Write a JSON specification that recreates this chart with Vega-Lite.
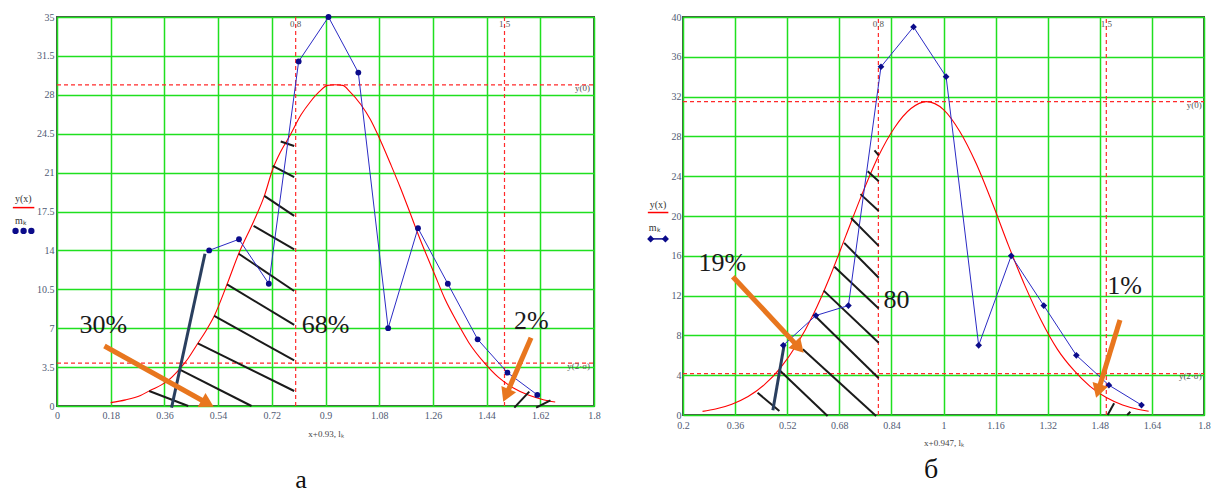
{
  "$schema": "https://vega.github.io/schema/vega-lite/v6.json",
  "background": "white",
  "padding": {"left": 11, "top": 11, "right": 5, "bottom": 0},
  "spacing": 89,
  "bounds": "flush",
  "config": {
    "view": {"stroke": "#4d4d4d", "strokeWidth": 2},
    "font": "Liberation Serif",
    "axis": {
      "grid": true, "gridColor": "#1fe01f", "gridWidth": 1.5, "gridOpacity": 1,
      "domain": false, "ticks": false,
      "labelFont": "Liberation Serif", "labelFontSize": 10, "labelColor": "#505a74",
      "labelFlush": false, "labelOverlap": false,
      "titleFont": "Liberation Serif", "titleFontSize": 9, "titleFontWeight": "normal", "titleColor": "#444"
    }
  },
  "datasets": {
    "curveA": [
      {"x":0.18,"y":0.3},{"x":0.23,"y":0.55},{"x":0.28,"y":0.95},{"x":0.315,"y":1.44},{"x":0.35,"y":1.9},
      {"x":0.37,"y":2.25},{"x":0.41,"y":3.3},{"x":0.44,"y":4.3},{"x":0.47,"y":5.55},{"x":0.5,"y":6.8},
      {"x":0.527,"y":8.1},{"x":0.57,"y":10.95},{"x":0.609,"y":13.7},{"x":0.659,"y":16.6},{"x":0.695,"y":18.9},
      {"x":0.723,"y":21.3},{"x":0.75,"y":22.9},{"x":0.78,"y":24.3},{"x":0.818,"y":26.2},{"x":0.85,"y":27.4},
      {"x":0.88,"y":28.3},{"x":0.907,"y":28.85},{"x":0.932,"y":28.9},{"x":0.958,"y":28.85},{"x":0.98,"y":28.33},
      {"x":1.019,"y":27.1},{"x":1.05,"y":25.8},{"x":1.08,"y":24.14},{"x":1.12,"y":21.65},{"x":1.15,"y":19.7},
      {"x":1.176,"y":17.9},{"x":1.22,"y":14.8},{"x":1.265,"y":11.9},{"x":1.3,"y":9.65},{"x":1.343,"y":7.45},
      {"x":1.38,"y":5.72},{"x":1.432,"y":3.9},{"x":1.48,"y":2.57},{"x":1.53,"y":1.62},{"x":1.58,"y":0.98},
      {"x":1.63,"y":0.57},{"x":1.67,"y":0.36}
    ],
    "curveB": [
      {"x":0.26,"y":0.36},{"x":0.3,"y":0.6},{"x":0.35,"y":1.09},{"x":0.4,"y":1.86},{"x":0.45,"y":3.05},
      {"x":0.5,"y":4.77},{"x":0.55,"y":7.11},{"x":0.6,"y":10.1},{"x":0.65,"y":13.8},{"x":0.7,"y":18.0},
      {"x":0.75,"y":22.2},{"x":0.8,"y":26.0},{"x":0.85,"y":28.9},{"x":0.9,"y":30.8},{"x":0.947,"y":31.5},
      {"x":1.0,"y":30.7},{"x":1.05,"y":28.5},{"x":1.1,"y":25.3},{"x":1.15,"y":21.3},{"x":1.2,"y":17.0},
      {"x":1.25,"y":13.0},{"x":1.3,"y":9.5},{"x":1.35,"y":6.6},{"x":1.4,"y":4.5},{"x":1.45,"y":2.88},
      {"x":1.5,"y":1.75},{"x":1.55,"y":1.01},{"x":1.6,"y":0.56},{"x":1.63,"y":0.38}
    ],
    "blueA": [
      {"x":0.51,"y":14},{"x":0.61,"y":15},{"x":0.71,"y":11},{"x":0.81,"y":31},{"x":0.91,"y":35},{"x":1.01,"y":30},
      {"x":1.11,"y":7},{"x":1.21,"y":16},{"x":1.31,"y":11},{"x":1.41,"y":6},{"x":1.51,"y":3},{"x":1.61,"y":1}
    ],
    "blueB": [
      {"x":0.508,"y":7},{"x":0.608,"y":10},{"x":0.708,"y":11},{"x":0.808,"y":35},{"x":0.908,"y":39},{"x":1.008,"y":34},
      {"x":1.108,"y":7},{"x":1.208,"y":16},{"x":1.308,"y":11},{"x":1.408,"y":6},{"x":1.508,"y":3},{"x":1.608,"y":1}
    ],
    "refA": [
      {"x":0.8,"x2":0.8,"y":0,"y2":35},{"x":1.5,"x2":1.5,"y":0,"y2":35},
      {"x":0,"x2":1.8,"y":28.9,"y2":28.9},{"x":0,"x2":1.8,"y":3.85,"y2":3.85}
    ],
    "refB": [
      {"x":0.8,"x2":0.8,"y":0,"y2":40},{"x":1.5,"x2":1.5,"y":0,"y2":40},
      {"x":0.2,"x2":1.8,"y":31.5,"y2":31.5},{"x":0.2,"x2":1.8,"y":4.15,"y2":4.15}
    ],
    "hatchA": [
      {"x":0.75,"y":23.8,"x2":0.795,"y2":23.4},
      {"x":0.723,"y":21.6,"x2":0.795,"y2":20.6},
      {"x":0.695,"y":18.9,"x2":0.795,"y2":17.1},
      {"x":0.659,"y":16.2,"x2":0.795,"y2":14.1},
      {"x":0.609,"y":13.7,"x2":0.795,"y2":10.35},
      {"x":0.57,"y":10.95,"x2":0.795,"y2":7.29},
      {"x":0.527,"y":8.1,"x2":0.795,"y2":4.11},
      {"x":0.472,"y":5.64,"x2":0.795,"y2":1.35},
      {"x":0.41,"y":3.3,"x2":0.652,"y2":0},
      {"x":0.309,"y":1.35,"x2":0.44,"y2":0},
      {"x":1.533,"y":-0.15,"x2":1.583,"y2":1.29},
      {"x":1.606,"y":-0.15,"x2":1.654,"y2":0.51}
    ],
    "hatchB": [
      {"x":0.788,"y":26.6,"x2":0.801,"y2":26.1},
      {"x":0.767,"y":24.5,"x2":0.801,"y2":23.5},
      {"x":0.745,"y":22.2,"x2":0.801,"y2":20.5},
      {"x":0.716,"y":19.8,"x2":0.801,"y2":17.0},
      {"x":0.695,"y":17.3,"x2":0.801,"y2":13.8},
      {"x":0.665,"y":14.9,"x2":0.801,"y2":10.7},
      {"x":0.632,"y":12.5,"x2":0.801,"y2":7.27},
      {"x":0.601,"y":10.1,"x2":0.801,"y2":3.69},
      {"x":0.568,"y":6.6,"x2":0.793,"y2":-0.1},
      {"x":0.499,"y":4.42,"x2":0.644,"y2":-0.1},
      {"x":0.429,"y":2.24,"x2":0.496,"y2":0.4},
      {"x":1.504,"y":0,"x2":1.524,"y2":1.18},
      {"x":1.564,"y":0,"x2":1.574,"y2":0.33}
    ],
    "slateA": [{"x":0.384,"y":-0.15,"x2":0.496,"y2":13.7}],
    "slateB": [{"x":0.511,"y":7.1,"x2":0.476,"y2":0.47}],
    "shaftA": [
      {"x":0.159,"y":5.4,"x2":0.505,"y2":0.23},
      {"x":1.589,"y":6.15,"x2":1.505,"y2":0.95}
    ],
    "shaftB": [
      {"x":0.353,"y":13.9,"x2":0.556,"y2":6.77},
      {"x":1.542,"y":9.54,"x2":1.475,"y2":2.41}
    ],
    "bigA": [
      {"x":0.155,"y":6.6,"label":"30%"},{"x":0.9,"y":6.6,"label":"68%"},{"x":1.59,"y":6.9,"label":"2%"}
    ],
    "bigB": [
      {"x":0.321,"y":14.5,"label":"19%"},{"x":0.856,"y":10.8,"label":"80"},{"x":1.556,"y":12.2,"label":"1%"}
    ],
    "topA": [{"x":0.8,"y":34.4,"label":"0.8"},{"x":1.5,"y":34.4,"label":"1.5"}],
    "topB": [{"x":0.8,"y":39.26,"label":"0.8"},{"x":1.5,"y":39.26,"label":"1.5"}],
    "rightA": [{"x":1.787,"y":28.65,"label":"y(0)"},{"x":1.787,"y":3.6,"label":"y(2·σ)"}],
    "rightB": [{"x":1.793,"y":31.2,"label":"y(0)"},{"x":1.793,"y":3.95,"label":"y(2·σ)"}],
    "legTxtA": [{"x":-0.1408,"y":18.36,"label":"y(x)"},{"x":-0.141,"y":16.4,"label":"mₖ"}],
    "legTxtB": [{"x":0.098,"y":20.85,"label":"y(x)"},{"x":0.095,"y":18.5,"label":"mₖ"}],
    "legLineA": [{"x":-0.148,"x2":-0.076,"y":17.85,"y2":17.85}],
    "legLineB": [{"x":0.092,"x2":0.155,"y":20.35,"y2":20.35}],
    "legPtsA": [{"x":-0.139,"y":15.75},{"x":-0.112,"y":15.75},{"x":-0.086,"y":15.75}],
    "legPtsB": [{"x":0.1007,"y":17.7},{"x":0.146,"y":17.7}],
    "panelA": [{"x":0.818,"y":-7.38,"label":"а"}],
    "panelB": [{"x":0.962,"y":-6.33,"label":"б"}]
  },
  "hconcat": [
    {
      "width": 537,
      "height": 389,
      "encoding": {
        "x": {"field": "x", "type": "quantitative",
              "scale": {"domain": [0, 1.8], "nice": false, "zero": false},
              "axis": {"values": [0,0.18,0.36,0.54,0.72,0.9,1.08,1.26,1.44,1.62,1.8], "format": ".4~g",
                       "labelPadding": 4, "title": "x+0.93, lₖ", "titleY": 27, "titleBaseline": "middle"}},
        "y": {"field": "y", "type": "quantitative",
              "scale": {"domain": [0, 35], "nice": false, "zero": false},
              "axis": {"values": [0,3.5,7,10.5,14,17.5,21,24.5,28,31.5,35], "format": ".4~g",
                       "labelPadding": 3, "title": null}}
      },
      "layer": [
        {"data": {"name": "refA"}, "mark": {"type": "rule", "color": "#ff2a2a", "strokeWidth": 1.2, "strokeDash": [4, 3]},
         "encoding": {"x2": {"field": "x2"}, "y2": {"field": "y2"}}},
        {"data": {"name": "curveA"}, "mark": {"type": "line", "color": "#ff0000", "strokeWidth": 1.1, "interpolate": "monotone"}},
        {"data": {"name": "hatchA"}, "mark": {"type": "rule", "color": "#1a1a1a", "strokeWidth": 2},
         "encoding": {"x2": {"field": "x2"}, "y2": {"field": "y2"}}},
        {"data": {"name": "slateA"}, "mark": {"type": "rule", "color": "#2a3f5f", "strokeWidth": 3},
         "encoding": {"x2": {"field": "x2"}, "y2": {"field": "y2"}}},
        {"data": {"name": "blueA"}, "mark": {"type": "line", "color": "#2b2bc4", "strokeWidth": 1}},
        {"data": {"name": "blueA"}, "mark": {"type": "point", "shape": "circle", "filled": true, "size": 34, "color": "#0b0b8a", "opacity": 1}},
        {"data": {"name": "shaftA"}, "mark": {"type": "rule", "color": "#e8761e", "strokeWidth": 5, "strokeCap": "butt"},
         "encoding": {"x2": {"field": "x2"}, "y2": {"field": "y2"}}},
        {"data": {"values": [{"x": 0.505, "y": 0.23}]},
         "mark": {"type": "point", "shape": "triangle-right", "filled": true, "size": 256, "angle": 29, "color": "#e8761e", "opacity": 1}},
        {"data": {"values": [{"x": 1.505, "y": 0.95}]},
         "mark": {"type": "point", "shape": "triangle-right", "filled": true, "size": 256, "angle": 113.4, "color": "#e8761e", "opacity": 1}},
        {"data": {"name": "bigA"}, "mark": {"type": "text", "font": "Liberation Serif", "fontSize": 26, "color": "#1a1a1a", "align": "center", "baseline": "alphabetic"},
         "encoding": {"text": {"field": "label"}}},
        {"data": {"name": "topA"}, "mark": {"type": "text", "font": "Liberation Serif", "fontSize": 9, "color": "#555", "align": "center", "baseline": "middle"},
         "encoding": {"text": {"field": "label"}}},
        {"data": {"name": "rightA"}, "mark": {"type": "text", "font": "Liberation Serif", "fontSize": 9, "color": "#555", "align": "right", "baseline": "middle"},
         "encoding": {"text": {"field": "label"}}},
        {"data": {"name": "legTxtA"}, "mark": {"type": "text", "font": "Liberation Serif", "fontSize": 10, "color": "#333", "align": "left", "baseline": "alphabetic"},
         "encoding": {"text": {"field": "label"}}},
        {"data": {"name": "legLineA"}, "mark": {"type": "rule", "color": "#ff0000", "strokeWidth": 1.5},
         "encoding": {"x2": {"field": "x2"}, "y2": {"field": "y2"}}},
        {"data": {"name": "legPtsA"}, "mark": {"type": "point", "shape": "circle", "filled": true, "size": 40, "color": "#0b0b8a", "opacity": 1}},
        {"data": {"name": "panelA"}, "mark": {"type": "text", "font": "Liberation Serif", "fontSize": 26, "color": "#111", "align": "center", "baseline": "alphabetic"},
         "encoding": {"text": {"field": "label"}}}
      ]
    },
    {
      "width": 521,
      "height": 398,
      "encoding": {
        "x": {"field": "x", "type": "quantitative",
              "scale": {"domain": [0.2, 1.8], "nice": false, "zero": false},
              "axis": {"values": [0.2,0.36,0.52,0.68,0.84,1,1.16,1.32,1.48,1.64,1.8], "format": ".4~g",
                       "labelPadding": 5, "title": "x+0.947, lₖ", "titleY": 27, "titleBaseline": "middle"}},
        "y": {"field": "y", "type": "quantitative",
              "scale": {"domain": [0, 40], "nice": false, "zero": false},
              "axis": {"values": [0,4,8,12,16,20,24,28,32,36,40], "format": ".4~g",
                       "labelPadding": 2, "title": null}}
      },
      "layer": [
        {"data": {"name": "refB"}, "mark": {"type": "rule", "color": "#ff2a2a", "strokeWidth": 1.2, "strokeDash": [4, 3]},
         "encoding": {"x2": {"field": "x2"}, "y2": {"field": "y2"}}},
        {"data": {"name": "curveB"}, "mark": {"type": "line", "color": "#ff0000", "strokeWidth": 1.1, "interpolate": "monotone"}},
        {"data": {"name": "hatchB"}, "mark": {"type": "rule", "color": "#1a1a1a", "strokeWidth": 2},
         "encoding": {"x2": {"field": "x2"}, "y2": {"field": "y2"}}},
        {"data": {"name": "slateB"}, "mark": {"type": "rule", "color": "#2a3f5f", "strokeWidth": 3},
         "encoding": {"x2": {"field": "x2"}, "y2": {"field": "y2"}}},
        {"data": {"name": "blueB"}, "mark": {"type": "line", "color": "#2b2bc4", "strokeWidth": 1}},
        {"data": {"name": "blueB"}, "mark": {"type": "point", "shape": "diamond", "filled": true, "size": 45, "color": "#0b0b8a", "opacity": 1}},
        {"data": {"name": "shaftB"}, "mark": {"type": "rule", "color": "#e8761e", "strokeWidth": 5, "strokeCap": "butt"},
         "encoding": {"x2": {"field": "x2"}, "y2": {"field": "y2"}}},
        {"data": {"values": [{"x": 0.556, "y": 6.77}]},
         "mark": {"type": "point", "shape": "triangle-right", "filled": true, "size": 256, "angle": 47, "color": "#e8761e", "opacity": 1}},
        {"data": {"values": [{"x": 1.475, "y": 2.41}]},
         "mark": {"type": "point", "shape": "triangle-right", "filled": true, "size": 256, "angle": 107.2, "color": "#e8761e", "opacity": 1}},
        {"data": {"name": "bigB"}, "mark": {"type": "text", "font": "Liberation Serif", "fontSize": 26, "color": "#1a1a1a", "align": "center", "baseline": "alphabetic"},
         "encoding": {"text": {"field": "label"}}},
        {"data": {"name": "topB"}, "mark": {"type": "text", "font": "Liberation Serif", "fontSize": 9, "color": "#555", "align": "center", "baseline": "middle"},
         "encoding": {"text": {"field": "label"}}},
        {"data": {"name": "rightB"}, "mark": {"type": "text", "font": "Liberation Serif", "fontSize": 9, "color": "#555", "align": "right", "baseline": "middle"},
         "encoding": {"text": {"field": "label"}}},
        {"data": {"name": "legTxtB"}, "mark": {"type": "text", "font": "Liberation Serif", "fontSize": 10, "color": "#333", "align": "left", "baseline": "alphabetic"},
         "encoding": {"text": {"field": "label"}}},
        {"data": {"name": "legLineB"}, "mark": {"type": "rule", "color": "#ff0000", "strokeWidth": 1.5},
         "encoding": {"x2": {"field": "x2"}, "y2": {"field": "y2"}}},
        {"data": {"name": "legPtsB"}, "mark": {"type": "line", "color": "#0b0b8a", "strokeWidth": 1.5}},
        {"data": {"name": "legPtsB"}, "mark": {"type": "point", "shape": "diamond", "filled": true, "size": 50, "color": "#0b0b8a", "opacity": 1}},
        {"data": {"name": "panelB"}, "mark": {"type": "text", "font": "Liberation Serif", "fontSize": 28, "color": "#111", "align": "center", "baseline": "alphabetic"},
         "encoding": {"text": {"field": "label"}}}
      ]
    }
  ]
}
